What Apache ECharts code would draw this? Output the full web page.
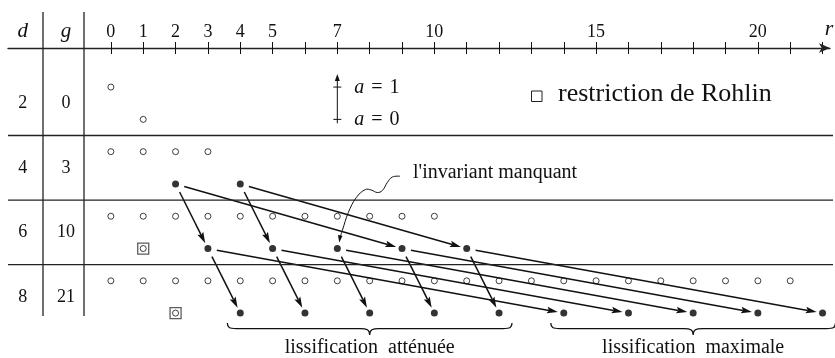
<!DOCTYPE html>
<html><head><meta charset="utf-8">
<script src="https://cdn.jsdelivr.net/npm/echarts@6/dist/echarts.min.js"></script>
<style>html,body{margin:0;padding:0;background:#fff}#c{width:835px;height:358px}</style>
</head><body><div id="c"></div>
<script>
// ---------- data ----------
const degrees = [2, 4, 6, 8];
const genera = [0, 3, 10, 21];
const tickValues = [0,1,2,3,4,5,6,7,8,9,10,11,12,13,14,15,16,17,18,19,20,21,22];
const labelValues = [0,1,2,3,4,5,7,10,15,20];

// open circles (r values) per (d, a)
const openD2A1 = [0];
const openD2A0 = [1];
const openD4A1 = [0,1,2,3];
const openD6A1 = [0,1,2,3,4,5,6,7,8,9,10];
const openD8A1 = [0,1,2,3,4,5,6,7,8,9,10,11,12,13,14,15,16,17,18,19,20,21];
// filled dots (r values)
const filledD4A0 = [2,4];
const filledD6A0 = [3,5,7,9,11];
const filledD8A0 = [4,6,8,10,12,14,16,18,20,22];
// Rohlin restriction (r values)
const rohlinD6A0 = [1];
const rohlinD8A0 = [2];
// arrows between filled dots (a = 0): [rFrom, dFrom, rTo, dTo]
const arrows = [
  [2,4,3,6],[2,4,9,6],[4,4,5,6],[4,4,11,6],
  [3,6,4,8],[3,6,14,8],[5,6,6,8],[5,6,16,8],[7,6,8,8],[7,6,18,8],
  [9,6,10,8],[9,6,20,8],[11,6,12,8],[11,6,22,8]
];
const missingInvariant = [7, 6]; // r, d
const braceFrom = [4, 14];
const braceTo = [12, 22];
const braceLabels = ['lissification  atténuée', 'lissification  maximale'];

// ---------- helpers ----------
const FONT = 'Liberation Serif';
const INK = '#111';
const lvl = (d, a) => d - 1 - a;
const pts = (rs, d, a) => rs.map(r => [r, lvl(d, a)]);

const openPts = [].concat(pts(openD2A1,2,1), pts(openD2A0,2,0), pts(openD4A1,4,1), pts(openD6A1,6,1), pts(openD8A1,8,1));
const filledPts = [].concat(pts(filledD4A0,4,0), pts(filledD6A0,6,0), pts(filledD8A0,8,0));
const rohlinPts = [].concat(pts(rohlinD6A0,6,0), pts(rohlinD8A0,8,0));
const arrowData = arrows.map(a => [a[0], lvl(a[1],0), a[2], lvl(a[3],0)]);
const braceData = braceFrom.map((f, i) => [f, braceTo[i], lvl(8,0), i]);

const chart = echarts.init(document.getElementById('c'), null, {renderer: 'canvas'});

const XMIN = -3.18, XMAX = 22.23;
const baseX = {
  type: 'value', position: 'top', min: XMIN, max: XMAX,
  splitLine: {show: false}
};

chart.setOption({
  animation: false,
  backgroundColor: '#fff',
  grid: {left: 8, right: 5, top: 48, bottom: 0, containLabel: false},
  xAxis: [
    Object.assign({}, baseX, {
      axisLine: {show: true, onZero: false, lineStyle: {color: '#222', width: 1.3}, symbol: ['none', 'arrow'], symbolSize: [7, 11]},
      axisTick: {show: true, customValues: tickValues, length: 6, lineStyle: {color: INK, width: 1}},
      axisLabel: {show: true, customValues: labelValues, margin: 16, verticalAlign: 'middle',
        fontFamily: FONT, fontSize: 18, color: INK}
    }),
    Object.assign({}, baseX, {
      axisLine: {show: false, onZero: false},
      axisTick: {show: true, inside: true, customValues: tickValues, length: 6, lineStyle: {color: INK, width: 1}},
      axisLabel: {show: false}
    })
  ],
  yAxis: {type: 'value', inverse: true, min: -1.21, max: 8.39, show: false},
  series: [
    {type: 'scatter', silent: true, data: openPts, symbol: 'circle', symbolSize: 6, z: 3,
      itemStyle: {color: '#fff', borderColor: INK, borderWidth: 1}},
    {type: 'scatter', silent: true, data: filledPts, symbol: 'circle', symbolSize: 7, z: 4,
      itemStyle: {color: '#000'}},
    {type: 'scatter', silent: true, data: rohlinPts, symbol: 'rect', symbolSize: 11, z: 3,
      itemStyle: {color: '#fff', borderColor: '#333', borderWidth: 1.3}},
    {type: 'scatter', silent: true, data: rohlinPts, symbol: 'circle', symbolSize: 6, z: 4,
      itemStyle: {color: '#fff', borderColor: INK, borderWidth: 1}},
    {type: 'custom', silent: true, data: arrowData, z: 5,
      renderItem: function (params, api) {
        const p1 = api.coord([api.value(0), api.value(1)]);
        const p2 = api.coord([api.value(2), api.value(3)]);
        const dx = p2[0] - p1[0], dy = p2[1] - p1[1];
        const L = Math.sqrt(dx*dx + dy*dy), ux = dx / L, uy = dy / L;
        const sx = p1[0] + ux * 9, sy = p1[1] + uy * 9;
        const tx = p2[0] - ux * 6, ty = p2[1] - uy * 6;
        const hl = 11, hw = 3.3;
        const bx = tx - ux * hl, by = ty - uy * hl;
        return {type: 'group', children: [
          {type: 'line', shape: {x1: sx, y1: sy, x2: bx + ux * 2, y2: by + uy * 2},
            style: {stroke: INK, lineWidth: 1.5}},
          {type: 'polygon', shape: {points: [[tx, ty], [bx - uy * hw, by + ux * hw], [bx + ux*2, by + uy*2], [bx + uy * hw, by - ux * hw]]},
            style: {fill: INK}}
        ]};
      }},
    {type: 'custom', silent: true, data: braceData, z: 5, clip: false,
      renderItem: function (params, api) {
        const a = api.coord([api.value(0) - 0.4, api.value(2)]);
        const b = api.coord([api.value(1) + 0.4, api.value(2)]);
        const cx = (a[0] + b[0]) / 2;
        const y0 = a[1] + 10, yM = a[1] + 15.5, yT = a[1] + 22;
        const x1 = a[0], x2 = b[0];
        const d = 'M' + x1 + ',' + y0 +
          ' C' + x1 + ',' + (yM - 1) + ' ' + (x1 + 2) + ',' + yM + ' ' + (x1 + 9) + ',' + yM +
          ' L' + (cx - 9) + ',' + yM +
          ' C' + (cx - 3) + ',' + yM + ' ' + cx + ',' + (yM + 1) + ' ' + cx + ',' + yT +
          ' C' + cx + ',' + (yM + 1) + ' ' + (cx + 3) + ',' + yM + ' ' + (cx + 9) + ',' + yM +
          ' L' + (x2 - 9) + ',' + yM +
          ' C' + (x2 - 2) + ',' + yM + ' ' + x2 + ',' + (yM - 1) + ' ' + x2 + ',' + y0;
        return {type: 'group', children: [
          {type: 'path', shape: {pathData: d}, style: {stroke: INK, lineWidth: 1.3, fill: null}},
          {type: 'text', x: cx, y: a[1] + 35, style: {text: braceLabels[api.value(3)], fontFamily: FONT, fontSize: 20,
            fill: INK, align: 'center', verticalAlign: 'middle'}}
        ]};
      }}
  ]
});

// ---------- decorations ----------
const px = (r, l) => chart.convertToPixel({gridIndex: 0}, [r, l]);
const g = [];
const lineEl = (x1, y1, x2, y2, w, c) => ({type: 'line', silent: true, z: 10,
  shape: {x1, y1, x2, y2}, style: {stroke: c || '#222', lineWidth: w || 1.3}});
const textEl = (x, y, text, size, extra) => ({type: 'text', silent: true, z: 10, x, y,
  style: Object.assign({text, fontFamily: FONT, fontSize: size, fill: INK, align: 'center', verticalAlign: 'middle'}, extra || {})});

// table frame
const colD = 22.7, colG = 66, vl1 = 43, vl2 = 84;
const yBottom = px(0, lvl(8,0))[1] + 3;
g.push(lineEl(vl1, 12, vl1, yBottom));
g.push(lineEl(vl2, 12, vl2, yBottom));
[1.5, 3.5, 5.5].forEach(l => { const y = px(0, l)[1]; g.push(lineEl(8, y, 833, y)); });
g.push(textEl(colD, 31, 'd', 21, {fontStyle: 'italic'}));
g.push(textEl(colG, 31, 'g', 21, {fontStyle: 'italic'}));
degrees.forEach((d, i) => {
  const y = px(0, lvl(d, 0) - 0.5)[1];
  g.push(textEl(colD, y, String(d), 18));
  g.push(textEl(colG, y, String(genera[i]), 18));
});
// axis name
g.push(textEl(829, 29, 'r', 22, {fontStyle: 'italic'}));

// a-legend
const aTop = px(7, lvl(2,1)), aBot = px(7, lvl(2,0));
g.push(lineEl(aTop[0], aTop[1] - 8, aBot[0], aBot[1] + 4, 1, INK));
g.push({type: 'polygon', silent: true, z: 10, shape: {points: [[aTop[0], aTop[1] - 13], [aTop[0] - 2.5, aTop[1] - 6], [aTop[0] + 2.5, aTop[1] - 6]]}, style: {fill: INK}});
g.push(lineEl(aTop[0] - 4, aTop[1], aTop[0] + 4, aTop[1], 1, INK));
g.push(lineEl(aBot[0] - 4, aBot[1], aBot[0] + 4, aBot[1], 1, INK));
const aRich = {i: {fontFamily: FONT, fontSize: 20, fontStyle: 'italic'}, e: {fontFamily: FONT, fontSize: 20, padding: [0, 2, 0, 2]}};
g.push(textEl(aTop[0] + 17, aTop[1] + 0.5, '{i|a} {e|=} 1', 20, {align: 'left', rich: aRich}));
g.push(textEl(aBot[0] + 17, aBot[1] + 0.5, '{i|a} {e|=} 0', 20, {align: 'left', rich: aRich}));

// Rohlin legend
g.push({type: 'rect', silent: true, z: 10, shape: {x: 531.5, y: 91, width: 10.5, height: 10.5}, style: {fill: '#fff', stroke: '#222', lineWidth: 1}});
g.push(textEl(558, 94.5, 'restriction de Rohlin', 26, {align: 'left'}));

// missing invariant label + squiggle
const t = px(missingInvariant[0], lvl(missingInvariant[1], 0));
g.push(textEl(413, 172.5, "l'invariant manquant", 20, {align: 'left'}));
const sq = [[62.7,-72.3],[55,-71.5],[50,-66],[45,-58],[40,-56],[34,-58.5],[28,-59],[19,-51],[11,-36],[5,-18],[3,-12]]
  .map(p => [t[0] + p[0], t[1] + p[1]]);
g.push({type: 'polyline', silent: true, z: 10, shape: {points: sq, smooth: 0.4}, style: {stroke: INK, lineWidth: 1, fill: null}});
g.push({type: 'polygon', silent: true, z: 10, shape: {points: [[t[0] + 2, t[1] - 6], [t[0] + 0.6, t[1] - 13.5], [t[0] + 5.2, t[1] - 12.8]]}, style: {fill: INK}});

chart.setOption({graphic: g});
</script>
</body></html>
